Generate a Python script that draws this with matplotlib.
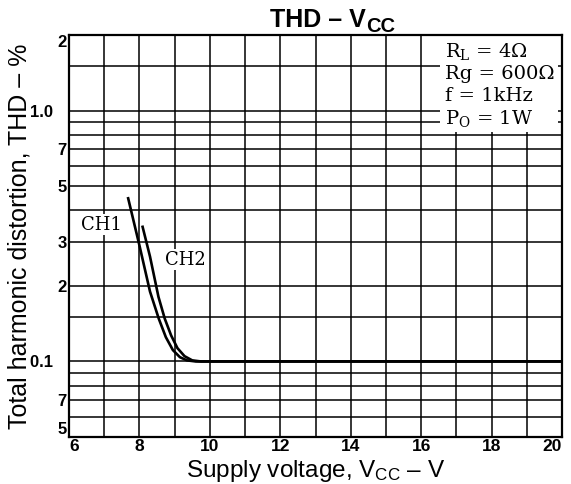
import numpy as np
import matplotlib
matplotlib.use("Agg")
from matplotlib import pyplot as plt
from matplotlib import font_manager
from matplotlib.patches import Rectangle

plt.rcParams['font.family'] = ['Liberation Sans', 'DejaVu Sans']
plt.rcParams['mathtext.fontset'] = 'custom'
plt.rcParams['mathtext.rm'] = 'Liberation Sans'
plt.rcParams['mathtext.bf'] = 'Liberation Sans:bold'
plt.rcParams['mathtext.default'] = 'regular'

installed = {f.name for f in font_manager.fontManager.ttflist}
tick_font = 'Liberation Sans Narrow' if 'Liberation Sans Narrow' in installed else 'Liberation Sans'

# curves
ch1_x = [7.68, 8.0, 8.3, 8.55, 8.75, 8.95, 9.15, 9.35, 9.6, 20.0]
ch1_y = [0.447, 0.29, 0.19, 0.148, 0.125, 0.111, 0.104, 0.101, 0.1, 0.1]
ch2_x = [8.09, 8.3, 8.54, 8.72, 8.9, 9.08, 9.28, 9.5, 9.75, 20.0]
ch2_y = [0.344, 0.262, 0.181, 0.148, 0.127, 0.113, 0.105, 0.101, 0.1, 0.1]

# axis grid / ticks
x_grid = list(range(6, 21))
x_labels = ['6', '', '8', '', '10', '', '12', '', '14', '', '16', '', '18', '', '20']
y_grid = [0.05, 0.06, 0.07, 0.08, 0.09, 0.1, 0.15, 0.2, 0.3, 0.4, 0.5,
          0.6, 0.7, 0.8, 0.9, 1.0, 1.5, 2.0]
y_labels = ['5', '', '7', '', '', '0.1   ', '', '2', '3', '', '5',
            '', '7', '', '', '1.0   ', '', '2']

conditions = ["R$_L$ = 4Ω", "Rg = 600Ω", "f = 1kHz", "P$_O$ = 1W"]

fig = plt.figure(figsize=(5.71, 4.84), dpi=100)
ax = fig.add_axes([69/571, 1-437/484, 493/571, 402/484])

ax.set_yscale('log')
ax.set_xlim(6, 20)
ax.set_ylim(0.05, 2)
ax.set_xticks(x_grid)
ax.set_xticklabels(x_labels, fontweight='bold', fontsize=12.5, family=tick_font)
ax.set_yticks(y_grid)
ax.set_yticklabels(y_labels, fontweight='bold', fontsize=12, family=tick_font)
ax.minorticks_off()
ax.tick_params(axis='x', length=0, pad=1.5)
ax.tick_params(axis='y', length=0, pad=1.5)
ax.grid(True, color='black', linewidth=1.1)
for s in ax.spines.values():
    s.set_linewidth(1.6)

xl = ax.get_xticklabels()
xl[0].set_ha('left')
xl[-1].set_ha('right')
yl = ax.get_yticklabels()
yl[0].set_va('bottom')
yl[-1].set_va('top')

ax.plot(ch1_x, ch1_y, color='black', linewidth=1.9, zorder=3)
ax.plot(ch2_x, ch2_y, color='black', linewidth=1.9, zorder=3)

ax.text(6.92, 0.35, 'CH1', family='DejaVu Serif', fontsize=13,
        ha='center', va='center', zorder=4,
        bbox=dict(facecolor='white', edgecolor='none', pad=1))
ax.text(9.31, 0.254, 'CH2', family='DejaVu Serif', fontsize=13,
        ha='center', va='center', zorder=4,
        bbox=dict(facecolor='white', edgecolor='none', pad=1))

# white box behind the test conditions
ax.add_patch(Rectangle((0.752, 0.758), 0.240, 0.242, transform=ax.transAxes,
                       facecolor='white', edgecolor='none', zorder=2.5))
for txt, yb in zip(conditions, [0.9445, 0.891, 0.836, 0.779]):
    ax.text(0.763, yb, txt, transform=ax.transAxes, family='DejaVu Serif',
            math_fontfamily='dejavuserif', fontsize=14,
            ha='left', va='baseline', zorder=4)

fig.text(366/571, 1-27/484, 'THD – V', fontsize=18, fontweight='bold',
         ha='right', va='baseline')
fig.text(366/571, 1-32/484, 'CC', fontsize=14.5, fontweight='bold',
         ha='left', va='baseline')
ax.set_xlabel('Supply voltage, V$_{CC}$ – V', fontsize=17.5, labelpad=3)
ax.set_ylabel('Total harmonic distortion, THD – %', fontsize=18)
ax.yaxis.set_label_coords(-0.077, 0.5)

fig.savefig('out.png', dpi=100)
